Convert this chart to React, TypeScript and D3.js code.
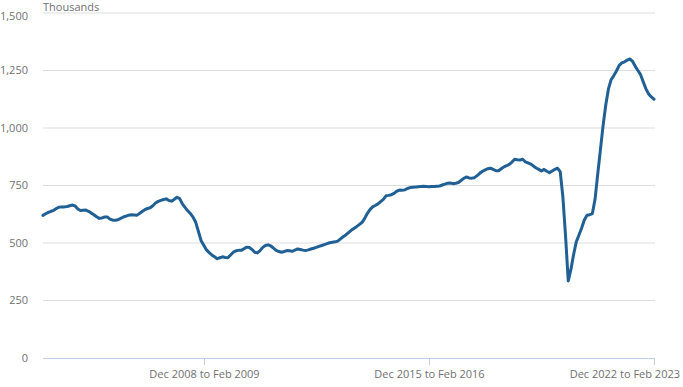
import React from "react"
import * as d3 from "d3"

// UK vacancies, rolling three-month periods, thousands
const MONTHS = ["Jan", "Feb", "Mar", "Apr", "May", "Jun", "Jul", "Aug", "Sep", "Oct", "Nov", "Dec"]
const firstPeriod = { month: 11, year: 2003 } // Dec 2003 to Feb 2004

const vacancies = [
    620, 627, 633, 638, 642, 650, 656, 657, 657, 659, 662, 665, 661, 648, 641, 642, 643, 638, 630, 623,
    614, 607, 609, 613, 613, 604, 599, 599, 601, 607, 613, 617, 621, 623, 622, 621, 628, 637, 645, 650,
    653, 662, 674, 681, 685, 689, 692, 685, 682, 690, 699, 693, 670, 655, 640, 628, 612, 590, 550, 510,
    490, 470, 458, 448, 440, 432, 436, 440, 437, 436, 448, 460, 466, 468, 468, 475, 482, 480, 472, 460,
    457, 467, 481, 489, 492, 487, 478, 468, 463, 460, 463, 467, 466, 464, 469, 474, 472, 469, 467, 470,
    474, 477, 481, 485, 489, 493, 497, 501, 503, 505, 508, 518, 527, 535, 545, 555, 563, 571, 580, 589,
    606, 628, 645, 657, 663, 670, 680, 690, 705, 707, 710, 716, 725, 730, 729, 731, 737, 741, 742, 743,
    745, 746, 747, 746, 745, 746, 746, 747, 748, 752, 756, 760, 761, 758, 760, 763, 772, 781, 787, 783,
    782, 784, 793, 803, 812, 818, 823, 825, 820, 814, 814, 823, 831, 836, 842, 852, 864, 862, 861, 864,
    853, 848, 843, 835, 826, 820, 813, 820, 812, 806, 813, 820, 825, 810, 700, 530, 335, 385, 450, 505,
    535, 565, 600, 621, 623, 628, 690, 800, 905, 1010, 1100, 1170, 1210, 1228, 1248, 1272, 1283, 1288, 1295, 1300,
    1290, 1268, 1250, 1232, 1200, 1170, 1148, 1135, 1125,
]

const periods = vacancies.map((_, i) => {
    const s = firstPeriod.year * 12 + firstPeriod.month + i
    const e = s + 2
    return `${MONTHS[s % 12]} ${Math.floor(s / 12)} to ${MONTHS[e % 12]} ${Math.floor(e / 12)}`
})

const tickLabels = ["Dec 2008 to Feb 2009", "Dec 2015 to Feb 2016", "Dec 2022 to Feb 2023"]
const yTicks = [0, 250, 500, 750, 1000, 1250, 1500]

const width = 683
const height = 387
const left = 43
const right = 654
const top = 13
const bottom = 358

export default function App() {
    const x = d3.scaleLinear().domain([0, periods.length - 1]).range([left, right])
    const y = d3.scaleLinear().domain([0, 1500]).range([bottom, top])
    const line = d3
        .line<number>()
        .x((d, i) => x(i))
        .y(d => y(d))

    const font = "'Open Sans', sans-serif"
    const grey = "#707071"

    return (
        <svg
            width={width}
            height={height}
            style={{ position: "absolute", left: 0, top: 0, background: "#fff" }}
            fontFamily={font}
        >
            {yTicks.map(t => (
                <g key={t}>
                    {t > 0 && (
                        <line x1={left} x2={right + 1} y1={y(t)} y2={y(t)} stroke="#dddddd" strokeWidth={1} />
                    )}
                    <text
                        x={28}
                        y={Math.max(y(t), 16)}
                        dy="0.35em"
                        textAnchor="end"
                        fontSize={11}
                        fill={grey}
                    >
                        {d3.format(",")(t)}
                    </text>
                </g>
            ))}
            <text x={left} y={11} fontSize={11} fill={grey}>
                Thousands
            </text>

            {/* x axis */}
            <line x1={left} x2={right + 1} y1={bottom + 0.5} y2={bottom + 0.5} stroke="#bfcfe4" strokeWidth={1} />
            {tickLabels.map((lab, k) => {
                const idx = periods.indexOf(lab)
                const tx = Math.round(x(idx)) + 0.5
                const last = k === tickLabels.length - 1
                return (
                    <g key={lab}>
                        <line x1={tx} x2={tx} y1={bottom} y2={bottom + 7} stroke="#bfcfe4" strokeWidth={1} />
                        <text
                            x={last ? 680 : tx}
                            y={378}
                            textAnchor={last ? "end" : "middle"}
                            fontSize={11}
                            fill={grey}
                        >
                            {lab}
                        </text>
                    </g>
                )
            })}

            <path
                d={line(vacancies) || ""}
                fill="none"
                stroke="#206095"
                strokeWidth={3}
                strokeLinejoin="round"
                strokeLinecap="round"
            />
        </svg>
    )
}
